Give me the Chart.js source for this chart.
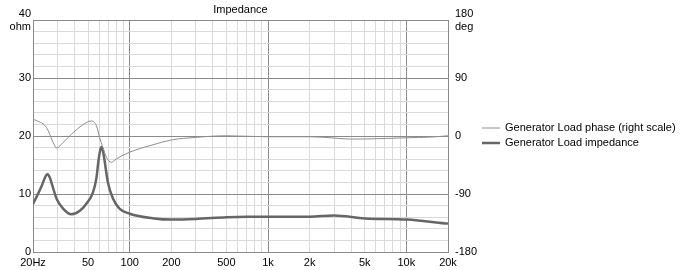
<!DOCTYPE html>
<html>
<head>
<meta charset="utf-8">
<title>Impedance</title>
<script src="https://cdn.jsdelivr.net/npm/chart.js@4.4.1/dist/chart.umd.min.js"></script>
<style>
  html, body { margin: 0; padding: 0; background: #fff; }
</style>
</head>
<body>
<canvas id="chart" width="686" height="270"></canvas>
<script>
// impedance (ohm, left scale)
const impFreq = [20, 21.3, 23.1, 24.7, 25.5, 26.5, 27.5, 29.6, 33, 38, 43.6, 48.9, 54.3, 57.5, 59.5, 61, 62.5, 64, 65.8, 69.6, 75.8, 84.4, 100, 150, 200, 300, 500, 700, 1000, 2000, 3000, 5000, 10000, 20000];
const impOhm  = [8.3, 9.6, 11.4, 13.1, 13.4, 12.8, 11.6, 9.2, 7.5, 6.5, 7.1, 8.4, 10.3, 12.8, 15.8, 17.4, 18.1, 17.5, 15.8, 12.0, 9.2, 7.5, 6.6, 5.8, 5.6, 5.7, 6.0, 6.1, 6.1, 6.1, 6.3, 5.8, 5.6, 4.9];

// phase (deg, right scale)
const phaseFreq = [20, 21.3, 25.1, 28, 29.6, 33, 38, 44.8, 52.8, 57.5, 60.6, 64, 68, 73.8, 80, 100, 150, 200, 300, 500, 1000, 2000, 3000, 3900, 5000, 10000, 15000, 20000];
const phaseDeg  = [26, 24, 13, -10, -18.5, -10, 3, 16, 23.6, 16, -2, -17.6, -33, -40.7, -35.5, -25, -13, -6, -2, 0.5, -1, -1, -3, -4.6, -4.5, -2.6, -1.5, 0.5];

// axis ticks
const xGridValues = [20, 30, 40, 50, 60, 70, 80, 90, 100, 200, 300, 400, 500, 600, 700, 800, 900,
                     1000, 2000, 3000, 4000, 5000, 6000, 7000, 8000, 9000, 10000, 20000];
const xLabelValues = [20, 50, 100, 200, 500, 1000, 2000, 5000, 10000, 20000];
const xLabelTexts  = ['20Hz', '50', '100', '200', '500', '1k', '2k', '5k', '10k', '20k'];
const xMajorValues = [20, 100, 1000, 10000, 20000];
const yOhmTicks = [0, 2, 4, 6, 8, 10, 12, 14, 16, 18, 20, 22, 24, 26, 28, 30, 32, 34, 36, 38, 40];
const yDegTicks = [-180, -90, 0, 90, 180];

const FONT = { family: '"Liberation Sans", Arial, sans-serif', size: 11, weight: 'normal' };
const MAJOR = '#8a8a8a';
const MINOR = '#dadada';

function toPoints(xs, ys) {
    return xs.map(function (x, i) { return { x: x, y: ys[i] }; });
}

// legend drawn next to the plot, like the original
const sideLegend = {
    id: 'sideLegend',
    afterDraw: function (chart) {
        const ctx = chart.ctx;
        const x0 = chart.chartArea.right + 34;
        const rows = [128, 143];
        ctx.save();
        ctx.font = FONT.size + 'px ' + FONT.family;
        ctx.textBaseline = 'middle';
        chart.data.datasets.forEach(function (ds, i) {
            const y = rows[i];
            ctx.strokeStyle = ds.borderColor;
            ctx.lineWidth = ds.borderWidth;
            ctx.beginPath();
            ctx.moveTo(x0, y);
            ctx.lineTo(x0 + 18, y);
            ctx.stroke();
            ctx.fillStyle = '#000';
            ctx.fillText(ds.label, x0 + 23, y);
        });
        ctx.restore();
    }
};

new Chart(document.getElementById('chart'), {
    type: 'line',
    data: {
        datasets: [{
            label: 'Generator Load phase (right scale)',
            data: toPoints(phaseFreq, phaseDeg),
            yAxisID: 'y1',
            borderColor: '#8e8e8e',
            borderWidth: 1,
            pointRadius: 0,
            cubicInterpolationMode: 'monotone'
        }, {
            label: 'Generator Load impedance',
            data: toPoints(impFreq, impOhm),
            yAxisID: 'y',
            borderColor: '#666666',
            borderWidth: 2.5,
            pointRadius: 0,
            cubicInterpolationMode: 'monotone'
        }]
    },
    options: {
        responsive: false,
        animation: false,
        devicePixelRatio: 1,
        layout: { padding: { left: 0, right: 200, top: 0, bottom: 0 } },
        plugins: {
            legend: { display: false },
            tooltip: { enabled: false },
            title: {
                display: true,
                text: 'Impedance',
                fullSize: false,
                color: '#000',
                font: FONT,
                padding: { top: 1, bottom: 4 }
            }
        },
        scales: {
            x: {
                type: 'logarithmic',
                min: 20,
                max: 20000,
                afterBuildTicks: function (s) {
                    s.ticks = xGridValues.map(function (v) { return { value: v }; });
                },
                afterFit: function (s) { s.height = 18; },
                grid: {
                    drawTicks: false,
                    color: function (c) {
                        return xMajorValues.indexOf(c.tick.value) >= 0 ? MAJOR : MINOR;
                    }
                },
                border: { color: MAJOR },
                ticks: {
                    autoSkip: false,
                    maxRotation: 0,
                    padding: 4,
                    color: '#000',
                    font: FONT,
                    callback: function (v) {
                        const i = xLabelValues.indexOf(v);
                        return i >= 0 ? xLabelTexts[i] : '';
                    }
                }
            },
            y: {
                position: 'left',
                min: 0,
                max: 40,
                afterBuildTicks: function (s) {
                    s.ticks = yOhmTicks.map(function (v) { return { value: v }; });
                },
                afterFit: function (s) { s.width = 33; },
                grid: {
                    drawTicks: false,
                    color: function (c) {
                        return c.tick.value % 10 === 0 ? MAJOR : MINOR;
                    }
                },
                border: { color: MAJOR },
                ticks: {
                    autoSkip: false,
                    padding: 2,
                    color: '#000',
                    font: FONT,
                    callback: function (v) {
                        if (v % 10 !== 0) return '';
                        return v === 40 ? ['40', 'ohm'] : String(v);
                    }
                }
            },
            y1: {
                position: 'right',
                min: -180,
                max: 180,
                afterBuildTicks: function (s) {
                    s.ticks = yDegTicks.map(function (v) { return { value: v }; });
                },
                afterFit: function (s) { s.width = 38; },
                grid: { display: false, drawTicks: false },
                border: { color: MAJOR },
                ticks: {
                    padding: 7,
                    color: '#000',
                    font: FONT,
                    callback: function (v) {
                        return v === 180 ? ['180', 'deg'] : String(v);
                    }
                }
            }
        }
    },
    plugins: [sideLegend]
});
</script>
</body>
</html>
